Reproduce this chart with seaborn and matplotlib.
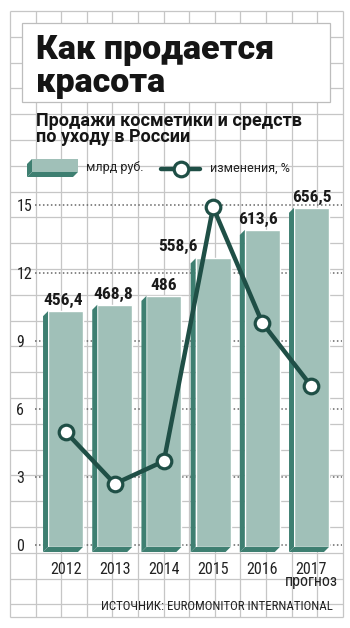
import numpy as np
import pandas as pd
import seaborn as sns
import matplotlib.pyplot as plt
from matplotlib.patches import Polygon, Rectangle
from matplotlib.lines import Line2D

# данные
years = ['2012', '2013', '2014', '2015', '2016', '2017']
tick_labels = ['2012', '2013', '2014', '2015', '2016', '2017\nпрогноз']
sales = [456.4, 468.8, 486.0, 558.6, 613.6, 656.5]          # млрд руб.
sales_labels = ['456,4', '468,8', '486', '558,6', '613,6', '656,5']
change = [5.0, 2.7, 3.7, 14.9, 9.8, 7.0]                     # изменения, %
yticks = [0, 3, 6, 9, 12, 15]

df = pd.DataFrame({'year': years, 'sales': sales, 'change': change})
df['pos'] = np.arange(len(df))

# цвета и шрифты
front = '#a0c0b8'
side = '#3e7f71'
line_c = '#1f4f46'
grid_c = '#c6c6c6'
narrow = ['Roboto Condensed', 'PT Sans Narrow', 'Fira Sans Condensed',
          'Liberation Sans', 'DejaVu Sans']
heavy = ['Roboto', 'DejaVu Sans']

sns.set_theme(style='white')
plt.rcParams['font.family'] = narrow

W, H = 350, 628
fig = plt.figure(figsize=(W / 100, H / 100), dpi=100)

# фон в клетку (координаты в пикселях)
bg = fig.add_axes([0, 0, 1, 1])
bg.set_xlim(0, W)
bg.set_ylim(H, 0)
bg.axis('off')
gx = 10 + 25.6 * np.arange(14)
gy = 11 + 25.8 * np.arange(24)
bg.vlines(gx, 11, 617, color=grid_c, lw=0.9, zorder=1)
bg.hlines(gy, 10, gx[-1], color=grid_c, lw=0.9, zorder=1)
bg.hlines(617, 10, gx[-1], color=grid_c, lw=0.9, zorder=1)

# белая плашка заголовка
bg.add_patch(Rectangle((22, 23), 307.5, 79, facecolor='white', edgecolor='#bdbdbd',
                       lw=0.9, zorder=2))
bg.text(36, 59, 'Как продается', fontsize=24.5, family=heavy, weight='black',
        color='#151515', va='baseline', zorder=3)
bg.text(36, 92, 'красота', fontsize=24.5, family=heavy, weight='black',
        color='#151515', va='baseline', zorder=3)

# подзаголовок
bg.text(36, 142, 'Продажи косметики и средств\nпо уходу в России', fontsize=13,
        family=heavy, weight='bold', color='#151515', va='baseline',
        linespacing=0.85, zorder=3)

# легенда
bg.add_patch(Rectangle((32, 159), 46, 13, facecolor=front, edgecolor='none', zorder=3))
bg.add_patch(Polygon([(32, 159), (32, 172), (27, 177), (27, 164)], closed=True,
                     facecolor=side, edgecolor='none', zorder=3))
bg.add_patch(Polygon([(32, 172), (78, 172), (73, 177), (27, 177)], closed=True,
                     facecolor=side, edgecolor='none', zorder=3))
bg.text(86, 168, 'млрд руб.', fontsize=9, family=heavy, color='#222222',
        va='center', zorder=3)
bg.add_line(Line2D([161, 200], [169, 169], color=line_c, lw=3.2, zorder=3,
                   solid_capstyle='round'))
bg.plot([180.5], [169], marker='o', ms=10.5, mfc='white', mec=line_c, mew=2.3, zorder=4)
bg.text(210, 168, 'изменения, %', fontsize=9, family=heavy, color='#222222',
        va='center', zorder=3)

# источник
bg.text(333, 610, 'ИСТОЧНИК: EUROMONITOR INTERNATIONAL', fontsize=9.3,
        color='#222222', ha='right', va='baseline', zorder=3)

# области графика: сетка/шкала, столбцы, линия
rect = [35 / W, (H - 553) / H, 307 / W, 363 / H]
xlim = (-0.62, 5.62)
ax = fig.add_axes(rect, zorder=1)
ax.patch.set_visible(False)
ax_bar = fig.add_axes(rect, zorder=2)
ax_bar.patch.set_visible(False)
ax_line = fig.add_axes(rect, zorder=3)
ax_line.patch.set_visible(False)

# шкала процентов
ax.set_xlim(*xlim)
ax.set_ylim(-0.353, 15.66)
ax.set_yticks(yticks)
ax.set_yticklabels([str(t) for t in yticks])
ax.set_xticks(df['pos'])
ax.set_xticklabels(tick_labels)
ax.tick_params(axis='y', length=0, pad=13.5, labelsize=11.5, labelcolor='#222222')
ax.tick_params(axis='x', length=0, pad=6.5, labelsize=11.5, labelcolor='#222222')
for lab in ax.get_yticklabels():
    lab.set_ha('left')
for lab in ax.get_xticklabels():
    lab.set_linespacing(0.75)
ax.grid(axis='y', color='#666666', ls=(0, (1, 1.6)), lw=1.1)
ax.grid(axis='x', visible=False)
for s in ax.spines.values():
    s.set_visible(False)

# столбцы
sns.barplot(data=df, x='pos', y='sales', ax=ax_bar, color=front, saturation=1,
            width=0.71, native_scale=True)
ax_bar.set_xlim(*xlim)
ax_bar.set_ylim(-11.6, 690.9)
ax_bar.axis('off')

# объем: боковая грань и низ (смещение 5 px влево-вниз)
dx = 5 / (307 / (xlim[1] - xlim[0]))
dy = 5 / (363 / (690.9 + 11.6))
for p in ax_bar.patches[:]:
    x0, x1 = p.get_x(), p.get_x() + p.get_width()
    top = p.get_height()
    ax_bar.add_patch(Polygon([(x0, top), (x0, 0), (x0 - dx, -dy), (x0 - dx, top - dy)],
                             closed=True, facecolor=side, edgecolor='none', clip_on=False))
    ax_bar.add_patch(Polygon([(x0, 0), (x1, 0), (x1 - dx, -dy), (x0 - dx, -dy)],
                             closed=True, facecolor=side, edgecolor='none', clip_on=False))

# подписи значений
label_offsets = [(-2, 2), (-1, 2), (0, 2), (-25, 3), (-3, 2), (0, 2)]
for i, (v, t) in enumerate(zip(sales, sales_labels)):
    ax_bar.annotate(t, xy=(i, v), xytext=label_offsets[i], textcoords='offset points',
                    ha='center', va='bottom', fontsize=12.5, weight='bold',
                    color='#1a1a1a', annotation_clip=False)

# линия изменений
sns.lineplot(data=df, x='pos', y='change', ax=ax_line, color=line_c, lw=3.2,
             marker='o', ms=10.5, mfc='white', mec=line_c, mew=2.3)
ax_line.set_xlim(*xlim)
ax_line.set_ylim(-0.353, 15.66)
ax_line.axis('off')

fig.savefig('out.png', dpi=100)
